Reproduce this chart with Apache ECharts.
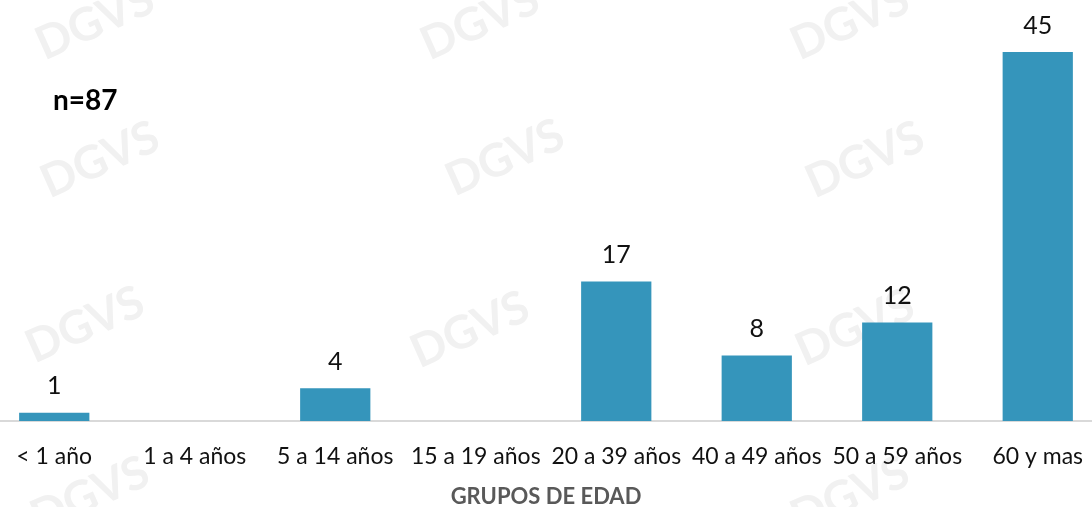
<!DOCTYPE html>
<html><head><meta charset="utf-8">
<script src="https://cdn.jsdelivr.net/npm/echarts@6/dist/echarts.min.js"></script>
<style>html,body{margin:0;padding:0;background:#fff;overflow:hidden;width:1092px;height:507px;position:relative}#c{position:absolute;left:-16px;top:0;width:1124px;height:507px}</style>
</head><body><div id="c"></div>
<script>
const categories = ['< 1 año','1 a 4 años','5 a 14 años','15 a 19 años','20 a 39 años','40 a 49 años','50 a 59 años','60 y mas'];
const values = [1, null, 4, null, 17, 8, 12, 45];
const axisTitle = 'GRUPOS DE EDAD';
const note = 'n=87';
const watermark = 'DGVS';
const watermarkSpots = [[95,22],[480,22],[850,22],[100,160],[505,158],[865,160],[85,325],[470,330],[855,328],[90,495],[850,495]];

const chart = echarts.init(document.getElementById('c'));
const font = 'Lato, "Open Sans", sans-serif';
const off = 16;
const marks = watermarkSpots.map(p => ({type:'text',x:p[0]+off,y:p[1],rotation:0.42,z:-10,silent:true,
  style:{text:watermark,font:'bold 46px '+font,fill:'#f1f1f1',align:'center',verticalAlign:'middle'}}));
marks.push({type:'text',left:53+off,top:87,z:10,style:{text:note,font:'bold 28px '+font,fill:'#000'}});
chart.setOption({
  animation:false,
  backgroundColor:'#fff',
  textStyle:{fontFamily:font},
  grid:{left:0,right:0,top:11,bottom:86,containLabel:false,outerBoundsMode:'none'},
  graphic:marks,
  xAxis:{type:'category',data:categories,
    axisLine:{lineStyle:{color:'#d9d9d9',width:2}},axisTick:{show:false},
    axisLabel:{color:'#111',fontSize:23,margin:24,interval:0,fontFamily:font},
    name:axisTitle,nameLocation:'middle',nameGap:65,
    nameTextStyle:{color:'#595959',fontSize:22,fontWeight:'bold',fontFamily:font}},
  yAxis:{type:'value',min:0,max:50,show:false,splitLine:{show:false}},
  series:[{type:'bar',data:values,barWidth:'50%',itemStyle:{color:'#3595bb'},
    label:{show:true,position:'top',distance:14,color:'#111',fontSize:25,fontFamily:font}}]
});
</script></body></html>
